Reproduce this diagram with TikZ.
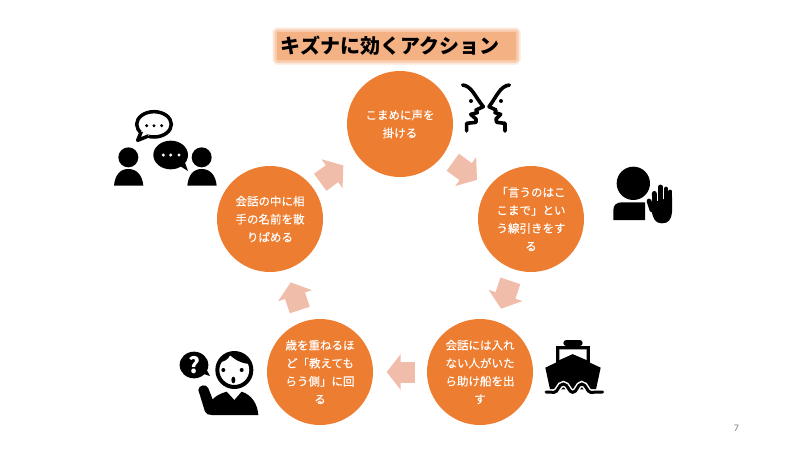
\documentclass[tikz,border=0pt]{standalone}
\usepackage{fontspec}
\setmainfont{Noto Sans CJK JP}
\setsansfont{Carlito}
\newfontfamily\circlefont[FakeBold=0.25]{Noto Sans CJK JP}
\usepackage{xcolor}
\usetikzlibrary{arrows.meta}
\definecolor{kizunaorange}{HTML}{ED7D31}
\definecolor{kizunatitle}{HTML}{F4B183}
\definecolor{kizunaglow}{HTML}{F8CBAD}
\definecolor{kizunahalo}{HTML}{FCE7D9}
\definecolor{kizunaarrow}{HTML}{F1BDAB}
\tikzset{
  stepcircle/.style={circle,fill=kizunaorange,minimum size=106pt,inner sep=0pt,text=white,
    align=center,font=\circlefont\fontsize{11.5}{18}\selectfont},
  flowarrow/.style={kizunaarrow,line width=21pt,-{Triangle[length=14pt,width=35pt]},
    shorten >=13.5pt,shorten <=12pt},
  titlebox/.style={fill=kizunatitle,rounded corners=1pt,
    preaction={draw=kizunahalo,line width=9pt},preaction={draw=kizunaglow,line width=5pt},
    minimum width=239pt,minimum height=28pt,inner sep=0pt,
    font=\fontsize{20}{22}\selectfont\bfseries},
  faceline/.style={line width=3.6pt,line cap=round,line join=round},
}
\begin{document}
\begin{tikzpicture}[x=1pt,y=-1pt]
\useasboundingbox (0,0) rectangle (800,450);
%% title
\node[titlebox] (title) at (396.5,46) {\raisebox{1.5pt}{キズナに効くアクション}\kern14pt};
%% circles
\node[stepcircle] (top) at (400,124) {こまめに声を\\掛ける};
\node[stepcircle] (right) at (531,219) {「言うのはこ\\こまで」とい\\う線引きをす\\る};
\node[stepcircle] (lowright) at (480,372) {会話には入れ\\ない人がいた\\ら助け船を出\\す};
\node[stepcircle] (lowleft) at (320,372) {歳を重ねるほ\\ど「教えても\\らう側」に回\\る};
\node[stepcircle] (left) at (270,219) {会話の中に相\\手の名前を散\\りばめる};
%% arrows
\draw[flowarrow] (top) -- (right);
\draw[flowarrow] (right) -- (lowright);
\draw[flowarrow] (lowright) -- (lowleft);
\draw[flowarrow] (lowleft) -- (left);
\draw[flowarrow,shorten <=9pt,shorten >=17pt] (left) -- (top);
%% faces
\begin{scope}[shift={(440,70)},scale=1/3]
\draw[faceline] (68,45) .. controls (95,48) and (105,80) .. (130,110) -- (108,120) -- (112,128)
  -- (92,133) -- (108,147) -- (108,157) -- (80,160) -- (80,183);
\draw[faceline] (208,45) .. controls (180,48) and (170,80) .. (147,110) -- (168,120) -- (165,128)
  -- (182,133) -- (168,147) -- (170,157) -- (195,160) -- (195,183);
\fill (93,93) circle (6);
\fill (183,93) circle (6);
\end{scope}
%% group talk
\begin{scope}[shift={(100,100)},scale=1/3]
\draw[line width=3.5pt] (162,73) ellipse (52 and 38);
\fill[white] (124,92) -- (116,117) -- (148,106) -- cycle;
\draw[line width=3.5pt,line join=round] (124,95) -- (113,121) -- (145,108);
\foreach \dotx in {140,162,185} \fill (\dotx,77) circle (5);
\fill (212,165) ellipse (52 and 43);
\fill (235,195) -- (264,213) -- (252,180) -- cycle;
\foreach \dotx in {190,212,237} \fill[white] (\dotx,165) circle (5);
\fill (85,172) circle (30);
\fill (42,257) .. controls (45,225) and (60,207) .. (85,207) .. controls (110,207) and (127,225) .. (130,257) -- cycle;
\fill (305,172) circle (30);
\fill (262,257) .. controls (265,225) and (280,207) .. (305,207) .. controls (330,207) and (347,225) .. (350,257) -- cycle;
\end{scope}
%% hand
\begin{scope}[shift={(600,155)},scale=1/3]
\fill (100,85) circle (50);
\fill (40,195) -- (40,165) .. controls (40,150) and (50,142) .. (65,142) -- (135,142) -- (135,195) -- cycle;
\fill (150,145) -- (216,125) -- (216,170) .. controls (214,195) and (205,205) .. (185,205)
  .. controls (165,205) and (160,190) .. (155,170) -- cycle;
\draw[line width=4.8pt,line cap=round] (147,138) -- (156,165);
\draw[line width=4.8pt,line cap=round] (163,115) -- (164,160);
\draw[line width=4.8pt,line cap=round] (181,96) -- (181,160);
\draw[line width=4.8pt,line cap=round] (198,102) -- (198,160);
\draw[line width=4.2pt,line cap=round] (211,110) -- (211,160);
\end{scope}
%% ship
\begin{scope}[shift={(530,330)},scale=1/3]
\fill[rounded corners=3pt] (100,48) -- (100,30) -- (158,30) -- (158,48) -- cycle;
\fill (78,47) rectangle (180,100);
\fill[white] (88,58) -- (170,58) -- (170,90) -- (128,72) -- (88,90) -- cycle;
\fill (46,113) -- (128,74) -- (212,113) -- (198,178) -- (60,178) -- cycle;
\draw[white,line width=6pt] (40,187) -- (72,187) .. controls (85,187) and (85,162) .. (100,162)
  .. controls (115,162) and (115,187) .. (128,187) .. controls (142,187) and (142,162) .. (155,162)
  .. controls (170,162) and (170,187) .. (182,187) -- (225,187);
\draw[line width=3pt,line cap=round] (48,186) -- (72,187) .. controls (85,187) and (85,162) .. (100,162)
  .. controls (115,162) and (115,187) .. (128,187) .. controls (142,187) and (142,162) .. (155,162)
  .. controls (170,162) and (170,187) .. (182,187) -- (218,186);
\end{scope}
%% asking person
\begin{scope}[shift={(170,340)},scale=1/3]
\fill (72,75) ellipse (43 and 40);
\fill (95,100) -- (120,108) -- (105,80) -- cycle;
\node[text=white,font=\fontsize{22}{22}\selectfont\bfseries] (question) at (72,75) {?};
\draw[line width=4pt,fill=white] (193,90) circle (51);
\fill (146,68) .. controls (155,25) and (232,25) .. (242,72) .. controls (225,72) and (200,65) .. (180,45)
  .. controls (175,60) and (160,65) .. (146,68) -- cycle;
\fill (160,90) circle (6);
\fill (215,90) circle (6);
\fill (190,120) ellipse (6 and 10);
\fill (125,225) -- (265,225) .. controls (262,190) and (245,165) .. (215,155) -- (193,180) -- (170,155)
  .. controls (150,160) and (135,170) .. (128,178) -- (115,145) .. controls (110,130) and (85,135) .. (85,150) -- (105,215) .. controls (108,222) and (115,225) .. (125,225) -- cycle;
\end{scope}
%% page number
\node[text=gray,font=\sffamily\fontsize{10}{12}\selectfont] (pagenum) at (736.5,428) {7};
\end{tikzpicture}
\end{document}
